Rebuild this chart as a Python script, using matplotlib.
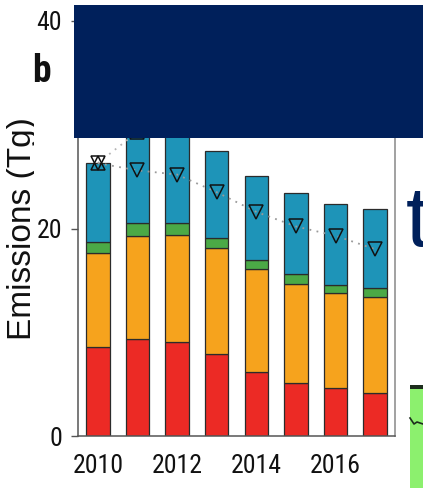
import matplotlib
matplotlib.use("Agg")
import matplotlib.pyplot as plt
from matplotlib import font_manager
from matplotlib.patches import Rectangle
from matplotlib.transforms import Bbox

# ---- data -------------------------------------------------------------
years = [2010, 2011, 2012, 2013, 2014, 2015, 2016, 2017]
red_part = [8.55, 9.35, 9.1, 7.9, 6.2, 5.15, 4.6, 4.15]
orange_part = [9.05, 9.95, 10.25, 10.2, 9.9, 9.5, 9.2, 9.2]
green_part = [1.1, 1.25, 1.15, 0.95, 0.9, 0.95, 0.75, 0.9]
blue_part = [7.6, 9.45, 9.5, 8.45, 8.05, 7.8, 7.8, 7.6]
tri_down = [26.3, 25.6, 25.2, 23.5, 21.6, 20.2, 19.3, 18.0]
tri_up_years = [2010, 2011, 2012]
tri_up = [26.3, 29.3, 31.5]
x_ticks = [2010, 2012, 2014, 2016]
y_ticks = [0, 20, 40]

# ---- fonts: prefer a condensed sans for the tick numbers ---------------
entries = font_manager.fontManager.ttflist
names = {f.name for f in entries}
narrow_props = None
for cand in ["Liberation Sans Narrow", "Arial Narrow", "Roboto Condensed",
             "Open Sans Condensed"]:
    if cand in names:
        narrow_props = dict(family=cand)
        break
if narrow_props is None:
    if any(f.name == "DejaVu Sans" and "condensed" in str(f.stretch)
           for f in entries):
        narrow_props = dict(family="DejaVu Sans", stretch="condensed")
        tick_size = 16
    else:
        narrow_props = dict(family="Liberation Sans")
        tick_size = 16
else:
    tick_size = 18.5

plt.rcParams["font.family"] = ["Liberation Sans", "DejaVu Sans"]

W, H = 423, 488
fig = plt.figure(figsize=(W / 100, H / 100), dpi=100)
fig.patch.set_facecolor("white")

ax = fig.add_axes([78 / W, 1 - 436 / H, (395 - 78) / W, (436 - 21) / H])

colors = ["#EC2A25", "#F6A31D", "#4BA946", "#1E94B8"]
bottom = [0.0] * len(years)
for part, c in zip([red_part, orange_part, green_part, blue_part], colors):
    ax.bar(years, part, width=0.59, bottom=bottom, color=c,
           edgecolor="#2b2b2b", linewidth=0.9, zorder=2)
    bottom = [b + p for b, p in zip(bottom, part)]

ax.plot(tri_up_years, tri_up, linestyle=(0, (1, 3)), color="#b5b5b5",
        lw=1.3, marker="^", ms=10, mfc="none", mec="#111111", mew=1.1, zorder=3)
ax.plot(years, tri_down, linestyle=(0, (1, 3)), color="#9a9a9a",
        lw=1.3, marker="v", ms=10, mfc="none", mec="#111111", mew=1.1, zorder=4)

ax.set_xlim(2009.5, 2017.5)
ax.set_ylim(0, 40)
ax.set_xticks(x_ticks)
ax.set_yticks(y_ticks)
ax.tick_params(axis="x", length=0, pad=13)
ax.tick_params(axis="y", length=5, width=1, color="#555555", pad=6.5)
for lab in ax.get_xticklabels() + ax.get_yticklabels():
    lab.set_family([narrow_props["family"], "DejaVu Sans"])
    if "stretch" in narrow_props:
        lab.set_stretch(narrow_props["stretch"])
    lab.set_fontsize(tick_size)
    lab.set_color("#111111")

for side in ["left", "bottom", "top"]:
    ax.spines[side].set_color("#555555")
    ax.spines[side].set_linewidth(1.1)
ax.spines["right"].set_color("#9a9a9a")
ax.spines["right"].set_linewidth(1.3)

ylab = ax.set_ylabel("Emissions (Tg)", fontsize=24, color="#111111")
ax.yaxis.set_label_coords((38 - 78) / 317, 0.5)
ylab.set_clip_box(Bbox.from_extents(0, 0, 33.5, H))
ylab.set_clip_on(True)

panel = fig.text(32 / W, 1 - 82 / H, "b", fontsize=27, fontweight="bold",
                 family=[narrow_props["family"], "DejaVu Sans"],
                 ha="left", va="baseline", color="#111111")
if "stretch" in narrow_props:
    panel.set_stretch(narrow_props["stretch"])

# banner and neighbouring panel fragments
fig.add_artist(Rectangle((74 / W, 1 - 138 / H), (W - 74) / W, 133 / H,
                         transform=fig.transFigure, facecolor="#00205B",
                         edgecolor="none", zorder=10))
fig.text(406 / W, 1 - 246 / H, "t", fontsize=62, color="#00205B",
         ha="left", va="baseline", zorder=10)
fig.add_artist(Rectangle((410 / W, 0), (W - 410) / W, (H - 385) / H,
                         transform=fig.transFigure, facecolor="#8CF06E",
                         edgecolor="none", zorder=10))
fig.add_artist(Rectangle((410 / W, 1 - 389 / H), (W - 410) / W, 4 / H,
                         transform=fig.transFigure, facecolor="#1d2d1d",
                         edgecolor="none", zorder=11))
fig.add_artist(plt.Line2D([410 / W, 414 / W, 417 / W, 423 / W],
                          [1 - 418 / H, 1 - 424 / H, 1 - 422 / H, 1 - 424 / H],
                          transform=fig.transFigure, color="#1d2d1d",
                          lw=1.2, zorder=11))

fig.savefig("out.png", dpi=100)
